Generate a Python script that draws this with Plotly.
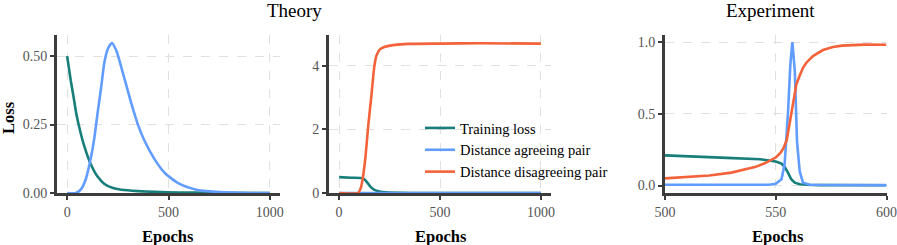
import plotly.graph_objects as go

# ---------------- data ----------------
# Theory, left panel
th1_loss_epochs = [0, 18, 32, 45, 63, 85, 115, 151, 184, 226, 267, 350, 434, 550, 700, 1000]
th1_loss = [0.50, 0.41, 0.35, 0.29, 0.23, 0.17, 0.108, 0.059, 0.033, 0.018, 0.012, 0.007, 0.004, 0.002, 0.001, 0.0]
th1_agree_epochs = [0, 43, 68, 93, 118, 135, 151, 168, 184, 201, 221, 242, 267, 292, 317, 350,
                    384, 434, 483, 550, 633, 733, 850, 1000]
th1_agree = [0, 0, 0.013, 0.053, 0.132, 0.205, 0.296, 0.387, 0.478, 0.527, 0.548, 0.521, 0.46, 0.393,
             0.326, 0.248, 0.187, 0.12, 0.072, 0.035, 0.013, 0.004, 0.001, 0]

# Theory, middle panel
th2_loss_epochs = [0, 60, 119, 136, 155, 175, 200, 235, 300, 400, 1000]
th2_loss = [0.5, 0.48, 0.46, 0.36, 0.2, 0.1, 0.05, 0.02, 0.005, 0, 0]
th2_agree_epochs = [0, 1000]
th2_agree = [0, 0]
th2_disagree_epochs = [0, 94, 108, 119, 131, 144, 161, 174, 185, 202, 227, 277, 343, 500, 700, 1000]
th2_disagree = [0, 0, 0.17, 0.53, 1.15, 2.09, 3.12, 3.95, 4.32, 4.52, 4.6, 4.66, 4.69, 4.7, 4.71, 4.7]

# Experiment, right panel
ex_loss_epochs = [500, 513, 528, 543, 547, 550, 552.6, 554, 555.5, 557, 558.6, 560.8, 563.8, 570, 600]
ex_loss = [0.21, 0.204, 0.193, 0.183, 0.176, 0.168, 0.153, 0.13, 0.09, 0.044, 0.02, 0.009, 0.005, 0.003, 0.002]
ex_agree_epochs = [500, 547, 550, 552.6, 554, 555.5, 556.6, 557.5, 558.6, 559.6, 560.8, 562.3, 565.3, 600]
ex_agree = [0.005, 0.006, 0.012, 0.044, 0.148, 0.5, 0.845, 1.0, 0.8, 0.31, 0.1, 0.02, 0.005, 0.003]
ex_disagree_epochs = [500, 510, 520, 530, 536, 541, 545, 548, 550, 552, 553.5, 555, 556.3, 557.8, 559.3,
                      560.8, 562.3, 563.8, 566.8, 571.3, 575.8, 580, 585, 590, 600]
ex_disagree = [0.05, 0.058, 0.07, 0.09, 0.11, 0.13, 0.155, 0.18, 0.195, 0.225, 0.26, 0.32, 0.43, 0.58, 0.705,
               0.765, 0.82, 0.856, 0.902, 0.944, 0.965, 0.975, 0.98, 0.982, 0.981]

series_names = ["Training loss", "Distance agreeing pair", "Distance disagreeing pair"]
colors = ["#177e7a", "#619cff", "#f4623a"]

th_xticks = [0, 500, 1000]
ex_xticks = [500, 550, 600]
y1_ticks = [0, 0.25, 0.5]
y1_ticklabels = ["0.00", "0.25", "0.50"]
y2_ticks = [0, 2, 4]
y3_ticks = [0, 0.5, 1.0]
y3_ticklabels = ["0.0", "0.5", "1.0"]

# ---------------- figure ----------------
W, H = 897, 245
FONT = "Liberation Serif"
LW = 2.6

fig = go.Figure()


def add(x, y, idx, xa, ya, show):
    fig.add_trace(go.Scatter(
        x=x, y=y, mode="lines", name=series_names[idx],
        line=dict(color=colors[idx], width=LW, shape="spline", smoothing=0.6),
        xaxis=xa, yaxis=ya, showlegend=show, legendgroup=series_names[idx],
    ))


add(th1_loss_epochs, th1_loss, 0, "x", "y", False)
add(th1_agree_epochs, th1_agree, 1, "x", "y", False)
add(th2_loss_epochs, th2_loss, 0, "x2", "y2", True)
add(th2_agree_epochs, th2_agree, 1, "x2", "y2", True)
add(th2_disagree_epochs, th2_disagree, 2, "x2", "y2", True)
for xs, ys, i in [(ex_loss_epochs, ex_loss, 0), (ex_agree_epochs, ex_agree, 1),
                  (ex_disagree_epochs, ex_disagree, 2)]:
    fig.add_trace(go.Scatter(x=xs, y=ys, mode="lines", name=series_names[i],
                             line=dict(color=colors[i], width=LW),
                             xaxis="x3", yaxis="y3", showlegend=False))

ydom = [52 / H, 210 / H]
axis_common = dict(
    showline=True, linewidth=3, linecolor="#3c3c3c", mirror=False,
    ticks="outside", ticklen=4, tickwidth=2, tickcolor="#3c3c3c",
    showgrid=True, gridcolor="#e0e0e0", griddash="dash", gridwidth=1,
    zeroline=False, tickfont=dict(family=FONT, size=14, color="#555555"),
    layer="above traces", automargin=False, ticklabeloverflow="allow",
)

fig.update_layout(
    width=W, height=H, autosize=False,
    margin=dict(l=0, r=0, t=0, b=0, pad=0),
    paper_bgcolor="white", plot_bgcolor="white",
    font=dict(family=FONT, color="black"),
    xaxis=dict(domain=[57 / W, 280 / W], range=[-50, 1050], tickvals=th_xticks, anchor="y", **axis_common),
    yaxis=dict(domain=ydom, range=[0, 0.577], tickvals=y1_ticks, ticktext=y1_ticklabels, anchor="x", **axis_common),
    xaxis2=dict(domain=[329 / W, 551 / W], range=[-50, 1050], tickvals=th_xticks, anchor="y2", **axis_common),
    yaxis2=dict(domain=ydom, range=[0, 4.97], tickvals=y2_ticks, anchor="x2", **axis_common),
    xaxis3=dict(domain=[665 / W, 886.5 / W], range=[500, 600], tickvals=ex_xticks, anchor="y3", **axis_common),
    yaxis3=dict(domain=ydom, range=[-0.052, 1.049], tickvals=y3_ticks, ticktext=y3_ticklabels, anchor="x3",
                **axis_common),
    legend=dict(x=420 / W, y=(H - 112) / H, xanchor="left", yanchor="top",
                bgcolor="rgba(0,0,0,0)", font=dict(family=FONT, size=14.5, color="black"),
                tracegroupgap=0, itemwidth=30),
)

annots = [
    dict(text="Theory", x=294 / W, y=(H - 11) / H, font=dict(size=19)),
    dict(text="Experiment", x=770 / W, y=(H - 11) / H, font=dict(size=19)),
    dict(text="<b>Epochs</b>", x=168 / W, y=(H - 236) / H, font=dict(size=16.5)),
    dict(text="<b>Epochs</b>", x=441 / W, y=(H - 236) / H, font=dict(size=16.5)),
    dict(text="<b>Epochs</b>", x=778 / W, y=(H - 236) / H, font=dict(size=16.5)),
    dict(text="<b>Loss</b>", x=8 / W, y=(H - 118) / H, font=dict(size=16.5), textangle=-90),
]
for a in annots:
    a.update(xref="paper", yref="paper", showarrow=False, xanchor="center", yanchor="middle")
    a["font"].update(family=FONT, color="black")
    fig.add_annotation(**a)

fig.write_html("out.html", config={"displayModeBar": False},
               post_script="document.body.style.margin='0';")
